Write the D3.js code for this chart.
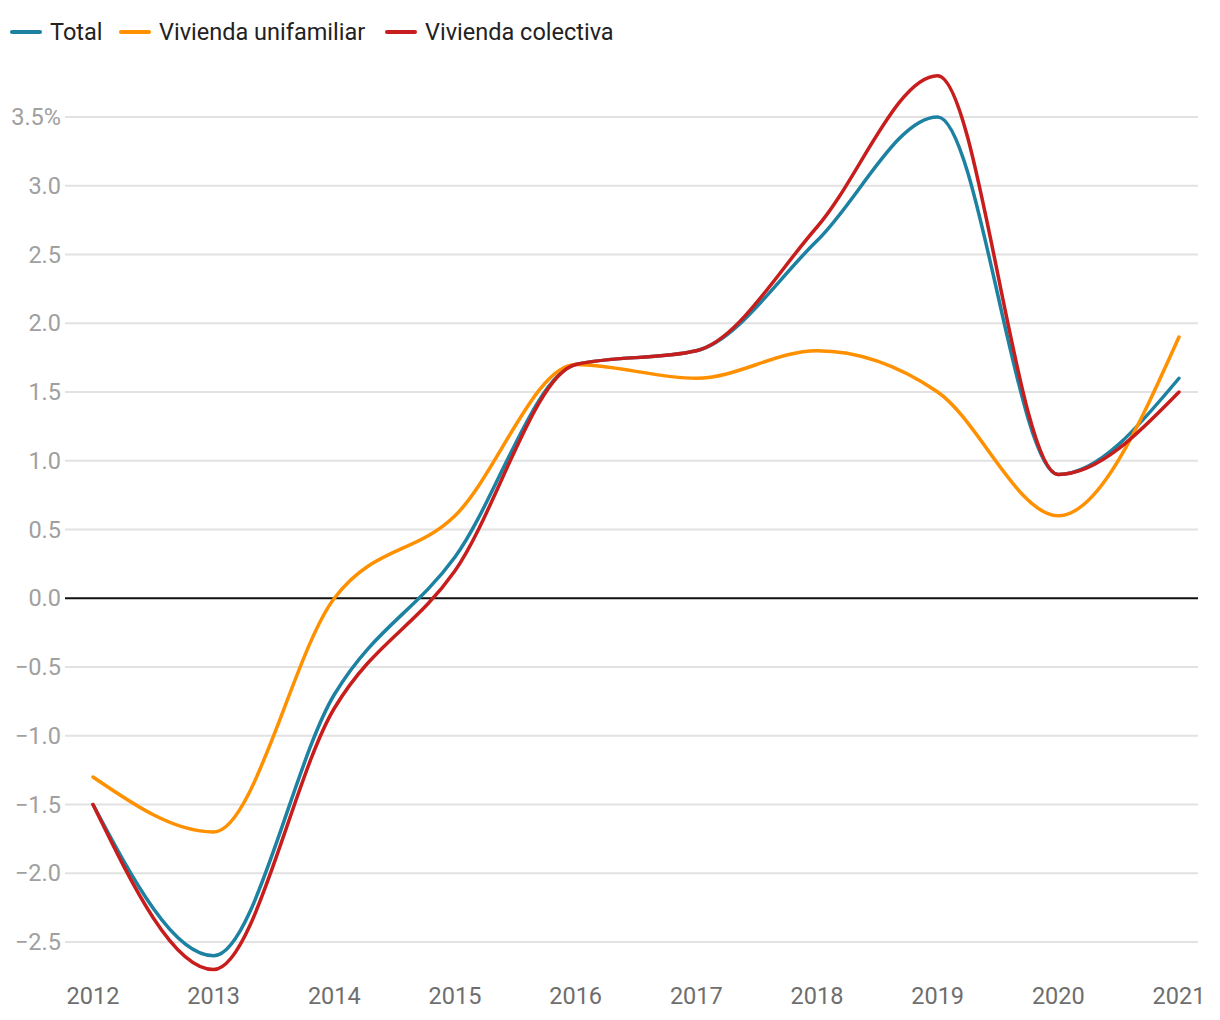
<!DOCTYPE html>
<html><head><meta charset="utf-8">
<script src="https://cdn.jsdelivr.net/npm/d3@7"></script>
<style>body{margin:0;background:#fff;font-family:Roboto,sans-serif}</style>
</head><body><svg id="c" width="1220" height="1020"></svg>
<script>
const years = [2012,2013,2014,2015,2016,2017,2018,2019,2020,2021];
const total = [-1.5,-2.6,-0.7,0.3,1.7,1.8,2.6,3.5,0.9,1.6];
const unifamiliar = [-1.3,-1.7,0.0,0.6,1.7,1.6,1.8,1.5,0.6,1.9];
const colectiva = [-1.5,-2.7,-0.8,0.2,1.7,1.8,2.7,3.8,0.9,1.5];
const yTicks = [-2.5,-2,-1.5,-1,-0.5,0,0.5,1,1.5,2,2.5,3,3.5];
const seriesNames = ["Total","Vivienda unifamiliar","Vivienda colectiva"];
const colors = ["#1d81a2","#ff9000","#c71e1d"];

const svg = d3.select("#c");
const x = d3.scaleLinear().domain([2012,2021]).range([93,1179]);
const y = d3.scaleLinear().domain([-2.5,3.5]).range([942,117]);

// grid
const gy = svg.append("g");
gy.selectAll("line").data(yTicks).join("line")
  .attr("x1",65).attr("x2",1198)
  .attr("y1",d=>y(d)).attr("y2",d=>y(d))
  .attr("stroke",d=>d===0?"#111":"#e2e2e2")
  .attr("stroke-width",2);
gy.selectAll("text").data(yTicks).join("text")
  .attr("x",61).attr("y",d=>y(d)).attr("dy","0.35em")
  .attr("text-anchor","end").attr("fill","#a0a0a0")
  .attr("font-size",23.5)
  .text(d=>{const s=d.toFixed(1).replace("-","\u2212");return d===3.5?s+"%":s;});

// x labels
svg.append("g").selectAll("text").data(years).join("text")
  .attr("x",d=>x(d)).attr("y",1004).attr("text-anchor","middle")
  .attr("fill","#6e6e6e").attr("font-size",23.5).text(d=>d);

const line = d3.line().x((d,i)=>x(years[i])).y(d=>y(d)).curve(d3.curveMonotoneX);
const data = [total,unifamiliar,colectiva];
svg.append("g").selectAll("path").data(data).join("path")
  .attr("d",line).attr("fill","none")
  .attr("stroke",(d,i)=>colors[i]).attr("stroke-width",3.5)
  .attr("stroke-linejoin","round").attr("stroke-linecap","round");

// legend
const legPos = [11,120,386];
const lg = svg.append("g");
seriesNames.forEach((n,i)=>{
  lg.append("line").attr("x1",legPos[i]+1).attr("x2",legPos[i]+29)
    .attr("y1",32).attr("y2",32).attr("stroke",colors[i])
    .attr("stroke-width",4).attr("stroke-linecap","round");
  lg.append("text").attr("x",legPos[i]+39).attr("y",32).attr("dy","0.35em")
    .attr("fill","#222").attr("font-size",23.5).text(n);
});
</script></body></html>
